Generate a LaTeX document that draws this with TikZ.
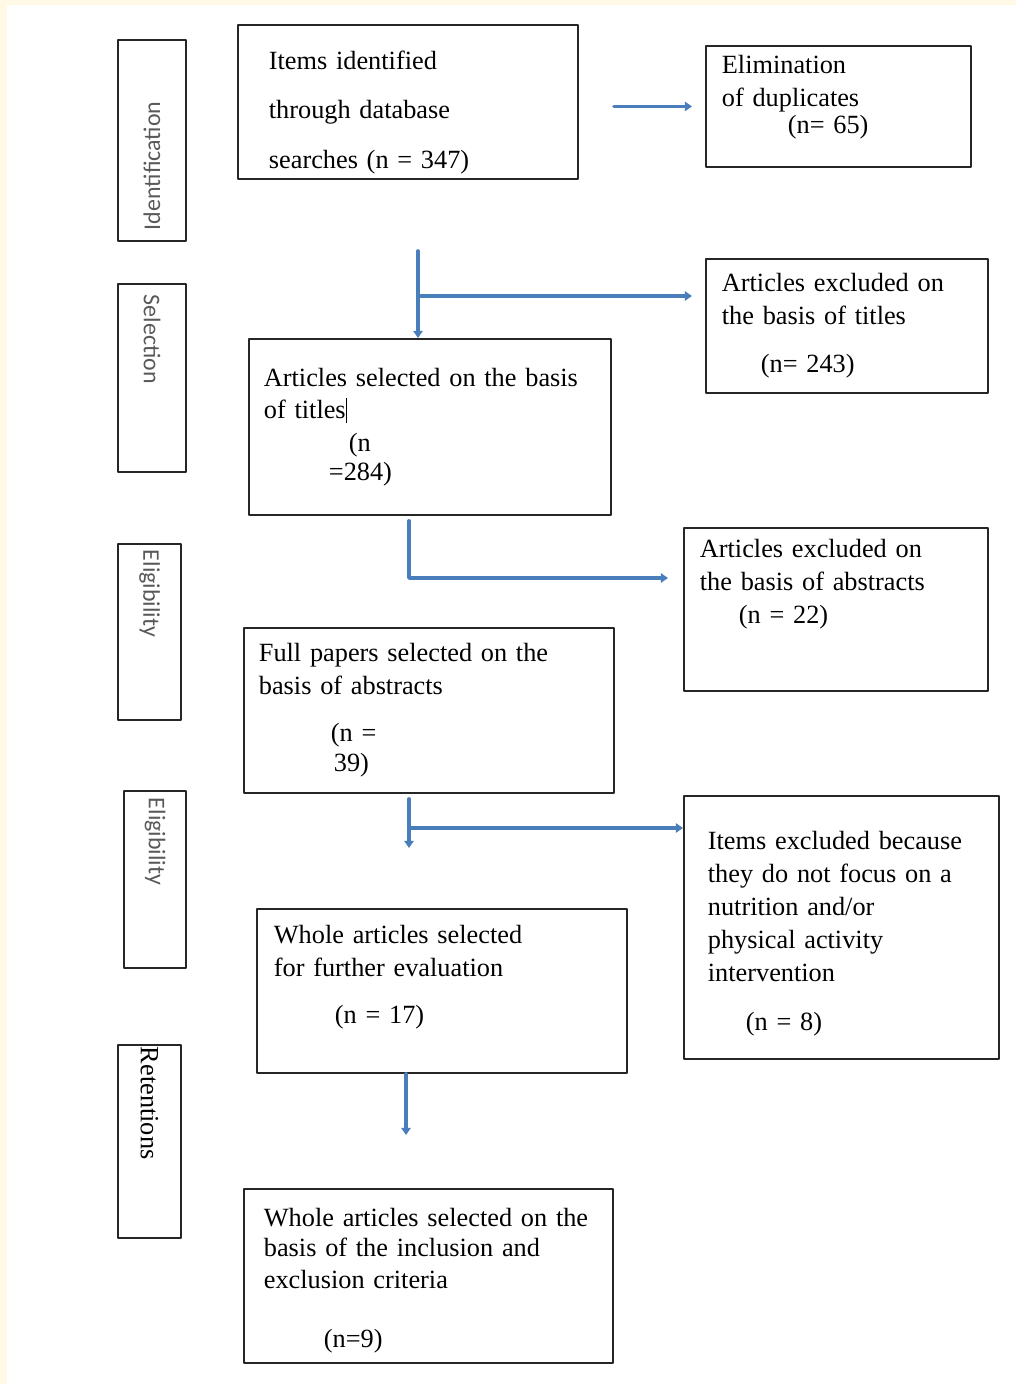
\documentclass[tikz,border=0pt]{standalone}
\usepackage{fontspec}
\setmainfont{Liberation Serif}
\newfontfamily\stagefont{Carlito}
\usetikzlibrary{arrows.meta}
\definecolor{lcflow}{RGB}{74,126,187}
\definecolor{lcpage}{RGB}{255,249,230}
\colorlet{lcstage}{black!65}
\newcommand{\boxfont}{\fontsize{18.7pt}{23.4pt}\selectfont}
\newcommand{\stagesize}{\fontsize{17pt}{20pt}\selectfont}

\begin{document}
\begin{tikzpicture}[%
    x=0.025cm, y=-0.025cm,            % one unit is one pixel of the layout
    >={Triangle[length=5pt,width=6.5pt]},
    line cap=round, line join=round]
% -------------------------------------------------
% Box styles
\tikzset{
  base/.style={draw=black!85, line width=1.3pt, rectangle, inner ysep=0pt},
  proc/.style={base, anchor=north west, align=left, font=\boxfont, text=black},
  % stage boxes on the left carry rotated captions
  stage/.style={base, align=left, font=\stagefont\stagesize, text=lcstage},
  % -------------------------------------------------
  % Connector line style
  flow/.style={->, draw, lcflow, line width=2.6pt}
}
% page
\fill [lcpage] (0,0) rectangle (1016,1384);
\fill [white] (7,5) rectangle (1016,1384);
\useasboundingbox (0,0) rectangle (1016,1384);

% -------------------------------------------------
% Middle column
\node [proc, minimum width=8.5cm, minimum height=3.85cm, inner xsep=0.775cm, text width=6.95cm]
  (items) at (237,24) {\rule{0pt}{28pt}Items identified\\[12pt] through database\\[12pt] searches (n = 347)};
\node [proc, minimum width=9.05cm, minimum height=4.4cm, inner xsep=0.375cm, text width=8.3cm]
  (sel) at (248,338) {Articles selected on the basis\\ of titles\rule[-3pt]{0.8pt}{18pt}\\
  \hspace*{2.125cm}(n\\[-3pt] \hspace*{1.625cm}=284)};
\node [proc, minimum width=9.25cm, minimum height=4.125cm, inner xsep=0.375cm, text width=8.5cm]
  (full) at (243,627) {Full papers selected on the\\ basis of abstracts\\[10pt]
  \hspace*{1.8cm}(n =\\[-2pt] \hspace*{1.875cm}39)};
\node [proc, minimum width=9.25cm, minimum height=4.1cm, inner xsep=0.425cm, text width=8.4cm]
  (whole) at (256,908) {Whole articles selected\\ for further evaluation\\[10pt]
  \hspace*{1.525cm}(n = 17)\\ \mbox{}};
\node [proc, minimum width=9.225cm, minimum height=4.35cm, inner xsep=0.5cm, text width=8.225cm]
  (final) at (243,1188) {\rule{0pt}{20pt}Whole articles selected on the\\[-2pt] basis of the inclusion and\\[-1pt]
  exclusion criteria\\[19pt] \hspace*{1.5cm}(n=9)};

% Right column
\node [proc, minimum width=6.625cm, minimum height=3.025cm, inner xsep=0.4cm, text width=5.825cm]
  (dup) at (705,45) {Elimination\\ of duplicates\\[-4pt] \hspace*{1.65cm}(n= 65)\\[-6pt] \mbox{}};
\node [proc, minimum width=7.05cm, minimum height=3.35cm, inner xsep=0.4cm, text width=6.25cm]
  (exT) at (705,258) {Articles excluded on\\ the basis of titles\\[11pt] \hspace*{0.975cm}(n= 243)};
\node [proc, minimum width=7.6cm, minimum height=4.075cm, inner xsep=0.4cm, text width=6.8cm]
  (exA) at (683,527) {Articles excluded on\\ the basis of abstracts\\ \hspace*{0.975cm}(n = 22)\\[16pt] \mbox{}};
\node [proc, minimum width=7.875cm, minimum height=6.575cm, inner xsep=0.6cm, text width=6.675cm]
  (exF) at (683,795) {\rule{0pt}{22pt}Items excluded because\\ they do not focus on a\\ nutrition and/or\\
  physical activity\\ intervention\\[12pt] \hspace*{0.95cm}(n = 8)};

% left stages
\node [stage, rotate=90, minimum width=5.025cm, minimum height=1.7cm, inner xsep=0.275cm,
  text width=4.475cm] (ident) at (152,140.5) {Identification};
\node [stage, rotate=-90, minimum width=4.7cm, minimum height=1.7cm, inner xsep=0.275cm,
  text width=4.15cm] (select) at (152,378) {Selection};
\node [stage, rotate=-90, minimum width=4.4cm, minimum height=1.575cm, inner xsep=0.15cm,
  text width=4.1cm] (elig1) at (149.5,632) {Eligibility};
\node [stage, rotate=-90, minimum width=4.425cm, minimum height=1.55cm, inner xsep=0.175cm,
  text width=4.075cm] (elig2) at (155,879.5) {Eligibility};
\node [stage, rotate=-90, minimum width=4.825cm, minimum height=1.575cm, inner xsep=0.05cm,
  text width=4.725cm, font=\boxfont, text=black] (retain) at (149.5,1141.5) {Retentions};

% -------------------------------------------------
% Corners and free ends of the connectors
\coordinate (s1) at (418,251);
\coordinate (b1) at (418,296);
\coordinate (b2) at (409,578);
\coordinate (b3) at (409,828);
\coordinate (e3) at (409,848);
\coordinate (e4) at (406,1135);

% -------------------------------------------------
% Connectors
\draw [flow, shorten <=0.875cm, shorten >=0.325cm] (items.east |- dup.west) -- (dup.west);
\draw [flow] (s1) -- (s1 |- sel.north);
\draw [flow, shorten >=0.325cm] (b1) -- (b1 -| exT.west);
\draw [flow, shorten <=0.125cm, shorten >=0.375cm] (sel.south -| b2) -- (b2) -- (b2 -| exA.west);
\draw [flow, shorten <=0.125cm] (full.south -| b3) -- (e3);
\draw [flow] (b3) -- (b3 -| exF.west);
\draw [flow] (whole.south -| e4) -- (e4);
\end{tikzpicture}
\end{document}
